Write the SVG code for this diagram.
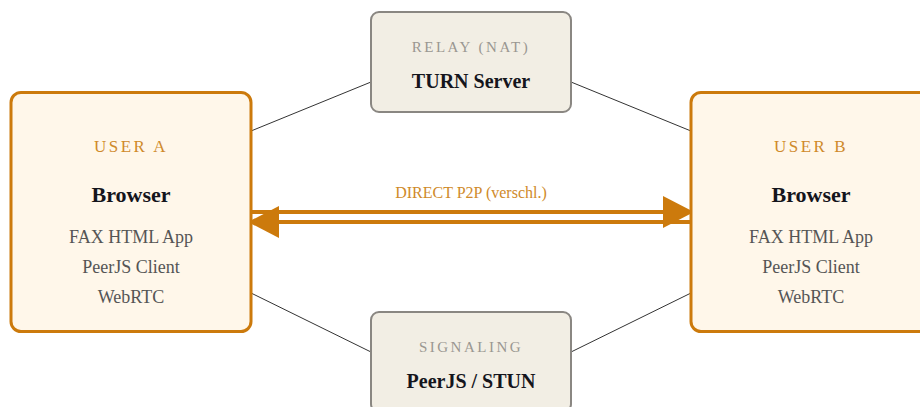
<svg xmlns="http://www.w3.org/2000/svg" width="920" height="407" viewBox="0 0 920 407">
  <style>
    text { font-family: "Liberation Serif", "Times New Roman", serif; text-anchor: middle; }
    .user { fill: #fff7ea; stroke: #cc7a0c; stroke-width: 3; }
    .srv { fill: #f2eee4; stroke: #8a8782; stroke-width: 2; }
    .utag { font-size: 17px; letter-spacing: 2.5px; fill: #cf8a2a; }
    .stag { font-size: 15px; letter-spacing: 2.5px; fill: #9a9791; }
    .title { font-size: 22px; font-weight: bold; fill: #15151c; }
    .stitle { font-size: 20px; font-weight: bold; fill: #15151c; }
    .item { font-size: 18px; fill: #555; }
    .link { stroke: #333; stroke-width: 1; fill: none; }
    .p2p { stroke: #cc7a0c; stroke-width: 4; fill: none; }
    .p2pl { font-size: 16px; fill: #cf8a2a; }
  </style>
  <defs>
    <marker id="head" viewBox="0 0 10 10" refX="10" refY="5" markerWidth="7.75" markerHeight="8" markerUnits="strokeWidth" orient="auto" preserveAspectRatio="none">
      <path d="M0,0 L10,5 L0,10 Z" fill="#cc7a0c"/>
    </marker>
  </defs>

  <g id="connectors">
    <line class="link" x1="251" y1="131" x2="371" y2="82"/>
    <line class="link" x1="571" y1="82" x2="691" y2="131"/>
    <line class="link" x1="251" y1="293" x2="371" y2="352"/>
    <line class="link" x1="571" y1="352" x2="691" y2="293"/>
    <line class="p2p" x1="251" y1="212" x2="694" y2="212" marker-end="url(#head)"/>
    <line class="p2p" x1="691" y1="222" x2="248" y2="222" marker-end="url(#head)"/>
    <text class="p2pl" x="471" y="198">DIRECT P2P (verschl.)</text>
  </g>

  <g id="user-a">
    <rect class="user" x="11" y="92.5" width="240" height="239" rx="10"/>
    <text class="utag" x="131" y="152">USER A</text>
    <text class="title" x="131" y="202">Browser</text>
    <text class="item" x="131" y="243">FAX HTML App</text>
    <text class="item" x="131" y="273">PeerJS Client</text>
    <text class="item" x="131" y="303">WebRTC</text>
  </g>

  <g id="user-b">
    <rect class="user" x="691" y="92.5" width="240" height="239" rx="10"/>
    <text class="utag" x="811" y="152">USER B</text>
    <text class="title" x="811" y="202">Browser</text>
    <text class="item" x="811" y="243">FAX HTML App</text>
    <text class="item" x="811" y="273">PeerJS Client</text>
    <text class="item" x="811" y="303">WebRTC</text>
  </g>

  <g id="turn">
    <rect class="srv" x="371" y="12" width="200" height="100" rx="8"/>
    <text class="stag" x="471" y="52">RELAY (NAT)</text>
    <text class="stitle" x="471" y="88">TURN Server</text>
  </g>

  <g id="signaling">
    <rect class="srv" x="371" y="312" width="200" height="100" rx="8"/>
    <text class="stag" x="471" y="352">SIGNALING</text>
    <text class="stitle" x="471" y="388">PeerJS / STUN</text>
  </g>
</svg>
